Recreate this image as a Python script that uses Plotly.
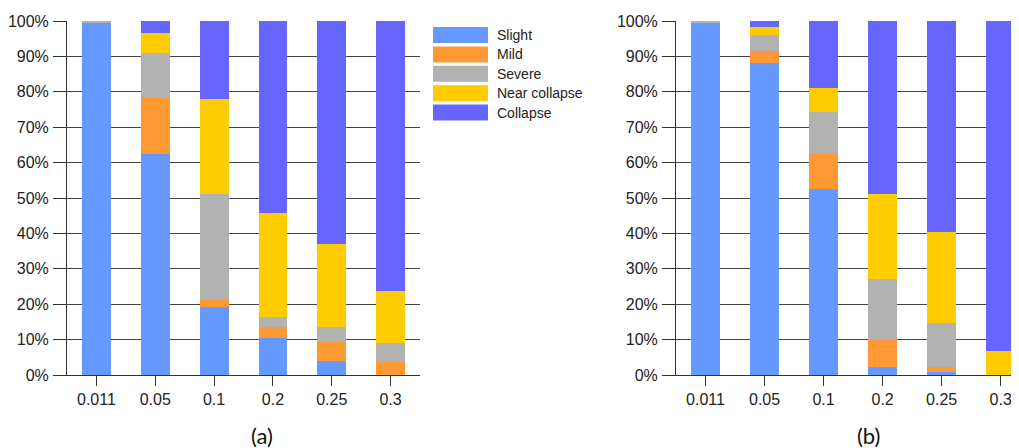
import plotly.graph_objects as go

categories = ["0.011", "0.05", "0.1", "0.2", "0.25", "0.3"]
states = ["Slight", "Mild", "Severe", "Near collapse", "Collapse"]
colors = ["#6699FF", "#FF9933", "#B2B2B2", "#FFCC00", "#6666FF"]

# Panel (a) percentages
a_slight = [99.5, 62.4, 19.1, 10.5, 4.0, 0.0]
a_mild = [0.2, 16.0, 2.0, 3.1, 5.3, 3.8]
a_severe = [0.3, 12.5, 30.1, 2.7, 4.3, 5.3]
a_near = [0.0, 5.6, 26.7, 29.5, 23.5, 14.7]
a_collapse = [0.0, 3.5, 22.1, 54.2, 62.9, 76.2]

# Panel (b) percentages
b_slight = [99.7, 88.1, 52.6, 2.4, 0.8, 0.0]
b_mild = [0.0, 3.3, 10.2, 7.5, 1.5, 0.0]
b_severe = [0.3, 4.6, 11.5, 17.2, 12.4, 0.1]
b_near = [0.0, 2.2, 6.8, 24.1, 25.8, 6.8]
b_collapse = [0.0, 1.8, 18.9, 48.8, 59.5, 93.1]

panel_a = [a_slight, a_mild, a_severe, a_near, a_collapse]
panel_b = [b_slight, b_mild, b_severe, b_near, b_collapse]
panel_labels = ["(a)", "(b)"]

# page body has an 8px margin: figure is placed at (8, 8) in the window
OFF = 8
W, H = 1019 - OFF, 448 - OFF

def px(sx):
    return (sx - OFF) / W

def py(sy):
    return 1 - (sy - OFF) / H

fig = go.Figure()

for panel, (xa, ya) in zip([panel_a, panel_b], [("x", "y"), ("x2", "y2")]):
    for name, vals, col in zip(states, panel, colors):
        fig.add_trace(go.Bar(
            x=categories, y=vals, name=name, xaxis=xa, yaxis=ya,
            marker=dict(color=col, line=dict(width=0)),
            showlegend=False, hoverinfo="x+y+name",
        ))

y_dom = [py(375), py(21)]
axis_font = dict(family="Liberation Sans, Arial, sans-serif", size=16, color="#222")

def xaxis_cfg(domain, rng, anchor):
    return dict(domain=domain, range=rng, type="category", showline=True,
                linecolor="#333", linewidth=1, ticks="outside", ticklen=10,
                tickcolor="#333", tickfont=axis_font, showgrid=False,
                zeroline=False, anchor=anchor, automargin=False)

def yaxis_cfg(anchor):
    return dict(domain=y_dom, range=[0, 100], dtick=10, ticksuffix="%",
                showline=True, linecolor="#333", linewidth=1, ticks="outside",
                ticklen=13, tickcolor="#333", tickfont=axis_font,
                showgrid=True, gridcolor="#444", gridwidth=1, zeroline=False,
                anchor=anchor, ticklabelstandoff=1, automargin=False)

fig.update_layout(
    width=W, height=H, margin=dict(l=0, r=0, t=0, b=0, autoexpand=False),
    paper_bgcolor="white", plot_bgcolor="white",
    barmode="stack", bargap=0.51,
    xaxis=xaxis_cfg([px(67), px(420)], [-0.5, 5.5], "y"),
    yaxis=yaxis_cfg("x"),
    xaxis2=xaxis_cfg([px(676), 1.0], [-0.5, 5.31], "y2"),
    yaxis2=yaxis_cfg("x2"),
    showlegend=False,
)

# Custom legend (wide colour boxes like the reference)
shapes = []
annotations = []
row0, step = 35, 19.4
for i, (name, col) in enumerate(zip(states, colors)):
    cy = row0 + i * step
    shapes.append(dict(type="rect", xref="paper", yref="paper",
                       x0=px(433), x1=px(488),
                       y0=py(cy + 8), y1=py(cy - 8),
                       fillcolor=col, line=dict(width=0)))
    annotations.append(dict(x=px(495), y=py(cy), xref="paper", yref="paper",
                            text=name, showarrow=False, xanchor="left",
                            yanchor="middle",
                            font=dict(family="Liberation Sans, Arial, sans-serif",
                                      size=14, color="#222")))

for lab, cx in zip(panel_labels, [262, 868]):
    annotations.append(dict(x=px(cx), y=py(435), xref="paper", yref="paper",
                            text=lab, showarrow=False, xanchor="center",
                            yanchor="middle",
                            font=dict(family="Lato, Open Sans, sans-serif",
                                      size=22, color="#111")))

fig.update_layout(shapes=shapes, annotations=annotations)
fig.write_html("out.html")
